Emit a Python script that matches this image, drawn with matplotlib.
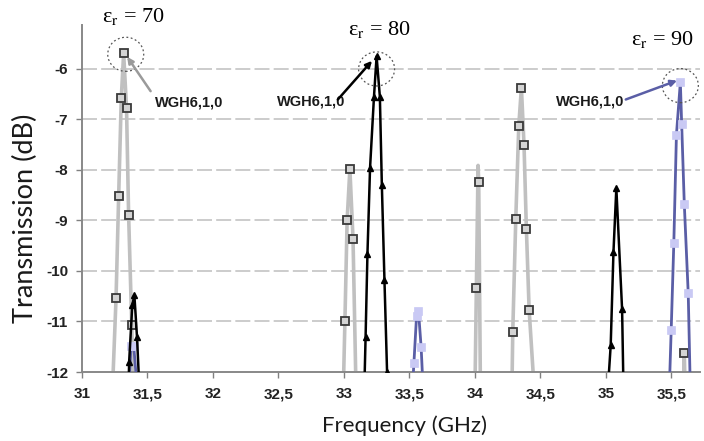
import matplotlib
matplotlib.use("Agg")
import matplotlib.pyplot as plt
from matplotlib.patches import Ellipse

# eps_r = 70 (grey squares)
x70 = [31.22, 31.26, 31.28, 31.30, 31.318, 31.34, 31.356, 31.38, 31.40,
       32.99, 33.008, 33.025, 33.046, 33.07, 33.10,
       34.00, 34.012, 34.025, 34.03, 34.045,
       34.28, 34.29, 34.313, 34.336, 34.356, 34.376, 34.394, 34.415, 34.46,
       35.59, 35.60, 35.61]
y70 = [-13.2, -10.54, -8.52, -6.58, -5.69, -6.77, -8.89, -11.07, -13.5,
       -13.0, -11.0, -8.99, -7.98, -9.37, -13.3,
       -12.6, -10.34, -7.91, -8.23, -13.0,
       -13.0, -11.2, -8.97, -7.12, -6.37, -7.51, -9.17, -10.77, -12.6,
       -12.8, -11.62, -12.8]

# eps_r = 80 (black triangles)
x80 = [31.35, 31.36, 31.384, 31.40, 31.42, 31.45,
       33.15, 33.166, 33.18, 33.20, 33.23, 33.25, 33.275, 33.29, 33.31, 33.33, 33.34,
       35.00, 35.038, 35.059, 35.081, 35.125, 35.14]
y80 = [-13.0, -11.8, -10.68, -10.48, -11.3, -13.0,
       -13.0, -11.3, -9.67, -7.96, -6.55, -5.75, -6.55, -8.29, -10.18, -12.0, -13.0,
       -13.0, -11.47, -9.63, -8.36, -10.76, -13.0]

# eps_r = 90 (blue, lavender squares)
x90 = [31.35, 31.375, 31.395, 31.43,
       33.52, 33.535, 33.555, 33.57, 33.59, 33.61,
       35.48, 35.50, 35.52, 35.54, 35.57, 35.58, 35.60, 35.63, 35.65]
y90 = [-12.6, -11.48, -11.48, -12.6,
       -12.5, -11.82, -10.9, -10.8, -11.5, -12.6,
       -12.8, -11.17, -9.45, -7.30, -6.26, -7.09, -8.67, -10.44, -12.8]

xticks = [31, 31.5, 32, 32.5, 33, 33.5, 34, 34.5, 35, 35.5]
xticklabels = ["31", "31,5", "32", "32,5", "33", "33,5", "34", "34,5", "35", "35,5"]
yticks = [-12, -11, -10, -9, -8, -7, -6]
yticklabels = ["-12", "-11", "-10", "-9", "-8", "-7", "-6"]

plt.rcParams['mathtext.fontset'] = 'stix'

fig = plt.figure(figsize=(7.04, 4.41), dpi=100)
ax = fig.add_axes([82/704, 1-372/441, (700-82)/704, (372-25)/441])

ax.set_xlim(31, 35.72)
ax.set_ylim(-12, -5.13)

for y in [-11, -10, -9, -8, -7, -6]:
    ax.axhline(y, color='#c4c4c4', lw=1.2, ls=(0, (9, 2.5)), zorder=0)

skip = [17]  # apex of the 34 GHz peak has no marker
ax.plot(x70, y70, color='#c0c0c0', lw=2.6, marker='s', ms=6.2,
        mfc='#d4d4d4', mec='#3a3a3a', mew=1.3,
        markevery=[i for i in range(len(x70)) if i not in skip], zorder=2)
ax.plot(x90, y90, color='#5a5ea6', lw=2.0, marker='s', ms=5.5,
        mfc='#c9c9f4', mec='#c9c9f4', mew=0.5, zorder=3)
ax.plot(x80, y80, color='black', lw=1.8, marker='^', ms=4.5,
        mfc='black', mec='black', zorder=4)

# dotted circles around the WGH6,1,0 peaks
px_x = 1 / 131.0
px_y = 1 / 50.4
for cx, cy in [(31.334, -5.71), (33.25, -6.0), (35.57, -6.33)]:
    ax.add_patch(Ellipse((cx, cy), 36*px_x, 34*px_y, fill=False,
                         ls=(0, (1.5, 2)), lw=0.9, ec='#555555', zorder=5))

# annotations
arrows = [((31.524, -6.44), (31.345, -5.76), '#9a9a9a', 31.557, -6.665),
          ((32.954, -6.605), (33.215, -5.84), 'black', 32.49, -6.645),
          ((35.153, -6.605), (35.545, -6.23), '#5a5ea6', 35.142, -6.64)]
for (start, tip, col, tx, ty), ha in zip(arrows, ['left', 'left', 'right']):
    ax.annotate('', xy=tip, xytext=start,
                arrowprops=dict(arrowstyle='-|>', color=col, lw=1.8,
                                mutation_scale=9, shrinkA=0, shrinkB=0),
                zorder=6)
    ax.text(tx, ty, 'WGH6,1,0', ha=ha, va='center', fontsize=10.5,
            fontweight='bold', family='Liberation Sans', color='#1a1a1a')

for label, lx, ly in [('70', 31.39, -4.96), ('80', 33.275, -5.22), ('90', 35.43, -5.41)]:
    ax.text(lx, ly, 'ε$_{\\mathrm{r}}$ = ' + label, ha='center', va='center',
            fontsize=16, family='Liberation Serif', clip_on=False)

ax.set_xticks(xticks)
ax.set_xticklabels(xticklabels)
ax.set_yticks(yticks)
ax.set_yticklabels(yticklabels)
for t in ax.get_xticklabels() + ax.get_yticklabels():
    t.set_fontfamily('Liberation Sans')
    t.set_fontweight('bold')
    t.set_fontsize(11)
    t.set_color('#222222')

ax.tick_params(axis='both', direction='out', length=4, width=1, color='#808080')
ax.tick_params(axis='x', pad=7)
ax.tick_params(axis='y', pad=6)

for s in ['top', 'right']:
    ax.spines[s].set_visible(False)
for s in ['left', 'bottom']:
    ax.spines[s].set_color('#888888')
    ax.spines[s].set_linewidth(1.4)

ax.set_xlabel('Frequency (GHz)', family='Lato', fontsize=16, color='#1a1a1a')
ax.set_ylabel('Transmission (dB)', family='Lato', fontsize=19.5, color='#1a1a1a')
ax.xaxis.set_label_coords((405-82)/618, -(415-372)/347)
ax.yaxis.set_label_coords(-(82-38)/618, (372-218)/347)

fig.savefig('out.png', dpi=100)
